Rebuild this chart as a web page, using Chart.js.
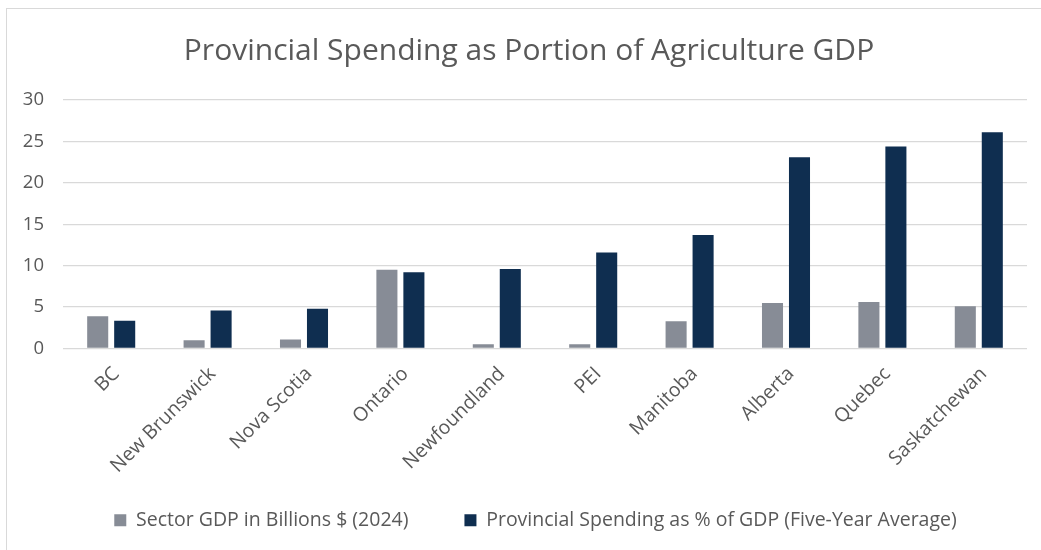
<!DOCTYPE html>
<html>
<head>
<meta charset="utf-8">
<script src="https://cdn.jsdelivr.net/npm/chart.js@4"></script>
<style>
  html, body { margin:0; padding:0; background:#fff; overflow:hidden; }
  #frame { position:absolute; left:6px; top:8px; width:1100px; height:600px; border:1.5px solid #d9d9d9; box-sizing:border-box; }
  #wrap { position:absolute; left:0; top:0; width:1041px; height:550px; }
</style>
</head>
<body>
<div id="frame"></div>
<div id="wrap"><canvas id="c"></canvas></div>
<script>
const categories = ["BC", "New Brunswick", "Nova Scotia", "Ontario", "Newfoundland", "PEI", "Manitoba", "Alberta", "Quebec", "Saskatchewan"];
const sectorGDP = [3.9, 1.0, 1.1, 9.5, 0.5, 0.5, 3.3, 5.5, 5.6, 5.1];
const provSpending = [3.35, 4.6, 4.8, 9.2, 9.6, 11.6, 13.7, 23.1, 24.4, 26.1];
const seriesNames = ["Sector GDP in Billions $ (2024)", "Provincial Spending as % of GDP (Five-Year Average)"];
const yTicks = [0, 5, 10, 15, 20, 25, 30];
const titleText = "Provincial Spending as Portion of Agriculture GDP";

const FONT = "'Open Sans', sans-serif";
const TXT = "#595959";

const layoutTweaks = {
  id: 'layoutTweaks',
  afterLayout(chart) {
    // let rotated category labels extend below the axis box
    chart.scales.x.bottom = chart.height;
    // centre title and legend on the framed chart like the original
    const t = chart.titleBlock;
    if (t) { t.left = 0; t.right = 1058; }
    const lg = chart.legend;
    if (lg) { lg.left += 22; lg.right += 22; }
  }
};

new Chart(document.getElementById('c'), {
  type: 'bar',
  data: {
    labels: categories,
    datasets: [
      { label: seriesNames[0], data: sectorGDP, backgroundColor: '#878c96', categoryPercentage: 0.56, barPercentage: 0.78 },
      { label: seriesNames[1], data: provSpending, backgroundColor: '#0f2e50', categoryPercentage: 0.56, barPercentage: 0.78 }
    ]
  },
  plugins: [layoutTweaks],
  options: {
    responsive: true,
    maintainAspectRatio: false,
    animation: false,
    layout: { padding: { left: 0, right: 14, top: 0, bottom: 10 } },
    plugins: {
      title: {
        display: true, text: titleText, color: TXT,
        font: { family: FONT, size: 30, weight: 'normal' },
        padding: { top: 33, bottom: 31 }
      },
      legend: {
        position: 'bottom',
        labels: {
          color: TXT, font: { family: FONT, size: 19.5 },
          boxWidth: 12, boxHeight: 12, padding: 56
        }
      },
      tooltip: { enabled: false }
    },
    scales: {
      x: {
        grid: { display: false },
        border: { display: false },
        ticks: { color: TXT, font: { family: FONT, size: 19.5 }, minRotation: 45, maxRotation: 45, padding: 6, labelOffset: 5 },
        afterFit: (s) => { s.height = 106; }
      },
      y: {
        min: 0, max: 30,
        afterBuildTicks: (s) => { s.ticks = yTicks.map(v => ({ value: v })); },
        grid: { color: '#d9d9d9', lineWidth: 1.3, drawTicks: false },
        border: { display: false },
        ticks: { color: TXT, font: { family: FONT, size: 18.5 }, padding: 19 },
        afterFit: (s) => { s.width = 63; }
      }
    }
  }
});
</script>
</body>
</html>
